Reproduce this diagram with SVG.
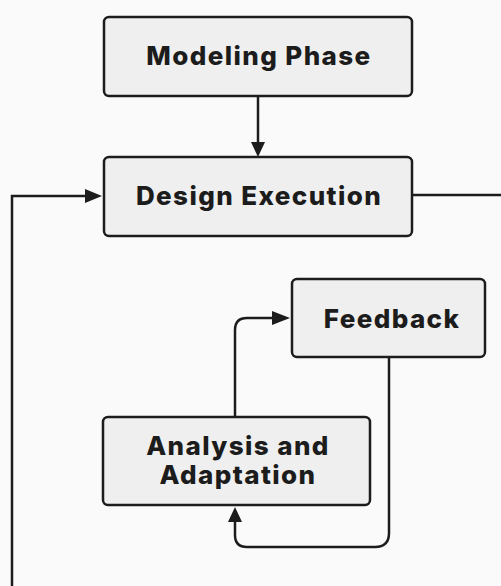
<svg xmlns="http://www.w3.org/2000/svg" width="501" height="586" viewBox="0 0 501 586">
  <defs>
    <style>
      .box { fill: #efefef; stroke: #1c1c1c; stroke-width: 2.5; }
      .label { font-family: Inter, "Liberation Sans", Arial, sans-serif; font-weight: 800; font-size: 26px; letter-spacing: 1.4px; fill: #1c1c1c; text-anchor: middle; }
      .edge { fill: none; stroke: #1c1c1c; stroke-width: 2.5; }
      .head { fill: #1c1c1c; }
    </style>
  </defs>
  <rect width="501" height="586" fill="#fafafa"/>

  <g id="connectors">
    <!-- Modeling Phase to Design Execution -->
    <path class="edge" d="M258,97 V143"/>
    <path class="head" d="M251,142 L265,142 L258,157 Z"/>
    <!-- return loop from the bottom into Design Execution -->
    <path class="edge" d="M12,586 V196 H86"/>
    <path class="head" d="M85,189 L85,203 L102,196 Z"/>
    <!-- Design Execution outgoing line -->
    <path class="edge" d="M412,195 H501"/>
    <!-- Analysis and Adaptation to Feedback -->
    <path class="edge" d="M235,417 V330 Q235,318 247,318 H274"/>
    <path class="head" d="M272,311 L272,325 L290,318 Z"/>
    <!-- Feedback back to Analysis and Adaptation -->
    <path class="edge" d="M389,358 V533 Q389,547 375,547 H247 Q235,547 235,535 V520"/>
    <path class="head" d="M228,522 L242,522 L235,507 Z"/>
  </g>

  <g id="modeling-phase">
    <rect class="box" x="104" y="17" width="308" height="79" rx="5"/>
    <text class="label" x="259" y="65">Modeling Phase</text>
  </g>
  <g id="design-execution">
    <rect class="box" x="104" y="157" width="308" height="79" rx="5"/>
    <text class="label" x="259" y="205">Design Execution</text>
  </g>
  <g id="feedback">
    <rect class="box" x="292" y="279" width="193" height="78" rx="5"/>
    <text class="label" x="392" y="328">Feedback</text>
  </g>
  <g id="analysis-adaptation">
    <rect class="box" x="103" y="417" width="267" height="88" rx="5"/>
    <text class="label" x="238" y="455">Analysis and</text>
    <text class="label" x="238" y="484">Adaptation</text>
  </g>
</svg>
